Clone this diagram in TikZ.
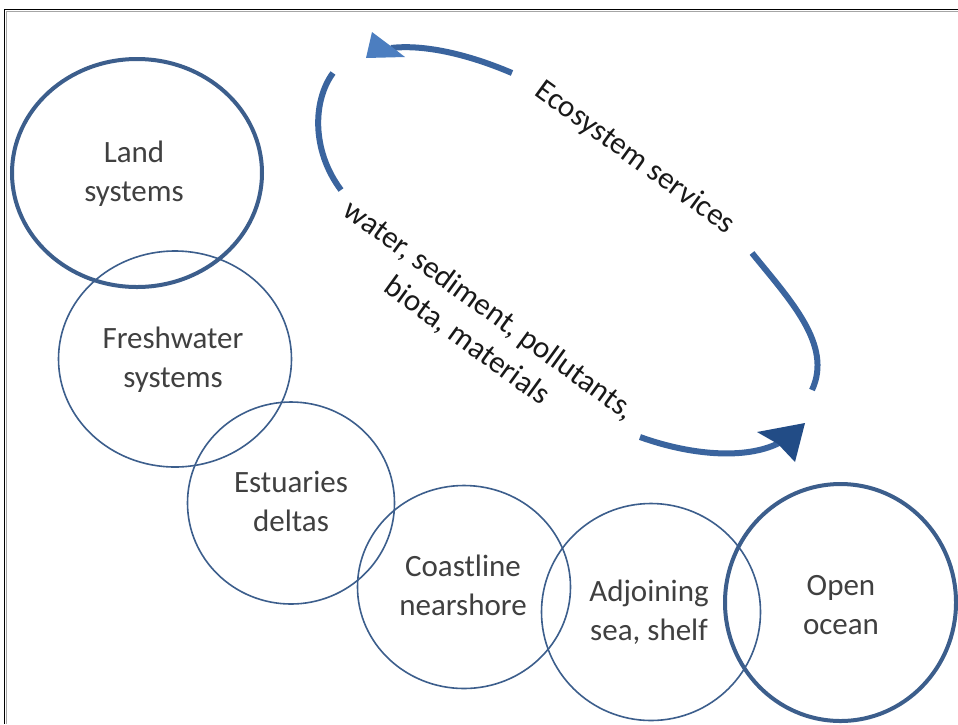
\documentclass[tikz,border=0pt]{standalone}
\usepackage{fontspec}
\setmainfont{Carlito}
\usetikzlibrary{shapes.geometric}
\definecolor{ringblue}{RGB}{60,94,140}
\definecolor{arrowblue}{RGB}{58,100,158}
\definecolor{headlight}{RGB}{76,126,192}
\definecolor{headdark}{RGB}{34,76,134}
\definecolor{labelgray}{RGB}{64,64,64}
\definecolor{flowtext}{RGB}{25,25,25}
\begin{document}
\begin{tikzpicture}[x=1pt,y=-1pt,
  ring/.style={draw=ringblue, ellipse, inner sep=0pt, outer sep=0pt, line width=1.6pt},
  thickring/.style={ring, line width=4pt},
  ringlabel/.style={align=center, text=labelgray, font=\fontsize{31}{38.5}\selectfont, inner sep=0pt},
  flowlabel/.style={align=center, text=flowtext, font=\fontsize{31}{38}\selectfont, inner sep=0pt, rotate=-36},
  flow/.style={draw=arrowblue, line width=6pt},
]
\useasboundingbox (0,0) rectangle (958,724);
\fill[white] (0,0) rectangle (958,724);
% frame
\draw[black!35, line width=1pt] (958,11.4) -- (6.2,11.4) -- (6.2,724);
\draw[black, line width=1.4pt] (958,9.5) -- (4.5,9.5) -- (4.5,724);

% rings
\node[thickring, minimum width=250pt, minimum height=228pt] (land) at (137,173) {};
\node[ring, minimum width=233pt, minimum height=216pt] (fresh) at (175,359) {};
\node[ring, minimum width=207pt, minimum height=202pt] (estuary) at (291,503) {};
\node[ring, minimum width=213pt, minimum height=203pt] (coast) at (464,587) {};
\node[ring, minimum width=219pt, minimum height=217pt] (adjoin) at (651,612) {};
\node[thickring, minimum width=231pt, minimum height=237pt] (ocean) at (840.5,602.5) {};

% ring labels
\node[ringlabel] (landtext) at (134,174.5) {\strut Land\\\strut systems};
\node[ringlabel] (freshtext) at (173,360.5) {\strut Freshwater\\\strut systems};
\node[ringlabel] (estuarytext) at (291,504.5) {\strut Estuaries\\\strut deltas};
\node[ringlabel] (coasttext) at (463,588.5) {\strut Coastline\\\strut nearshore};
\node[ringlabel] (adjointext) at (649,613.5) {\strut Adjoining\\\strut sea, shelf};
\node[ringlabel] (oceantext) at (841,607.5) {\strut Open\\\strut ocean};

% flow labels
\node[flowlabel] (services) at (635,158) {Ecosystem services};
\node[flowlabel] (fluxes) at (478,326) {water, sediment, pollutants,\\biota, materials};

% cycle arrows
\draw[flow] (512,73) .. controls (470,55) and (425,44) .. (391,48);
\fill[headlight] (366,58) -- (372,32) -- (392,47) -- (405,57) -- cycle;
\draw[flow] (333,73) .. controls (313,100) and (311,150) .. (341,190);
\draw[flow] (752,253) .. controls (790,300) and (833,345) .. (812,390);
\draw[flow] (640,437) .. controls (690,455) and (745,460) .. (779,443);
\fill[headdark] (805,423) -- (757,432) -- (778,444) -- (795,462) -- cycle;
\end{tikzpicture}
\end{document}
